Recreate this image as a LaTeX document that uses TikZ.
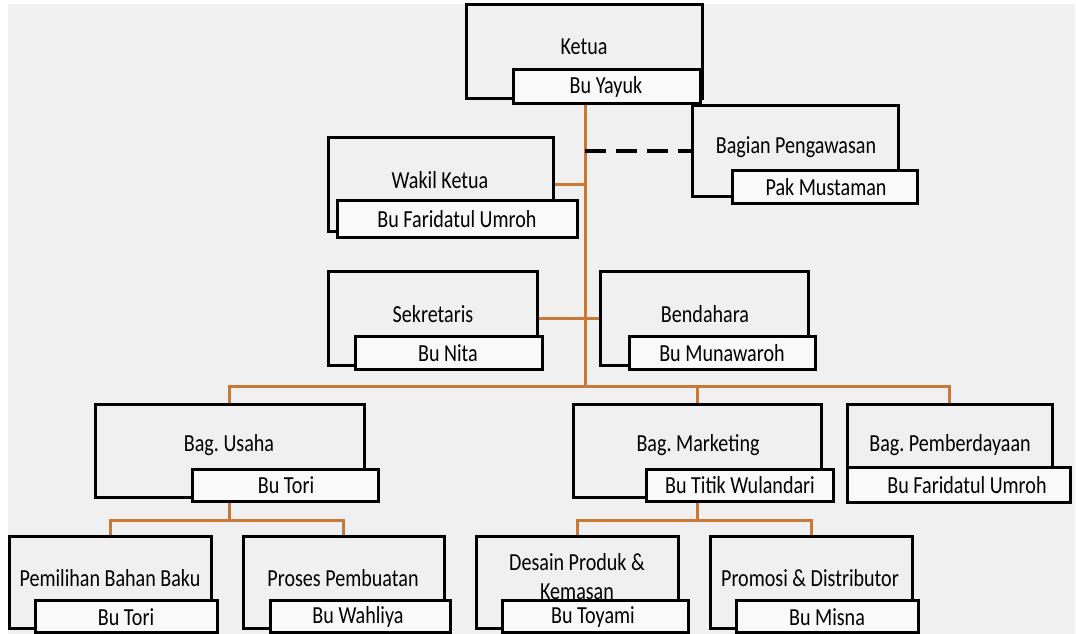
\documentclass[tikz,border=0pt]{standalone}
\usepackage{fontspec}
\setmainfont{Carlito}[FakeStretch=0.82]
\usetikzlibrary{fit}
\definecolor{bgcol}{HTML}{F0F0F0}
\definecolor{namefill}{HTML}{F9F9F9}
\definecolor{orgcol}{RGB}{200,121,56}
\definecolor{txtcol}{HTML}{000000}
\pgfdeclarelayer{bg}
\pgfdeclarelayer{lines}
\pgfsetlayers{bg,lines,main}
\tikzset{
  mainbox/.style={draw=black, line width=3pt, fill=bgcol, inner sep=0pt},
  namebox/.style={draw=black, line width=3pt, fill=namefill, inner sep=0pt},
  lbl/.style={font=\fontsize{24.5}{28}\selectfont\frenchspacing, inner sep=0pt, text=txtcol, align=center},
  conn/.style={draw=orgcol, line width=3pt},
  dashline/.style={draw=black, line width=4pt, dash pattern=on 21pt off 10pt}
}
\begin{document}
\frenchspacing
\begin{tikzpicture}[x=1pt,y=-1pt]
\useasboundingbox (0,0) rectangle (1076,634);
\begin{pgfonlayer}{bg}
\fill[bgcol] (8,4) rectangle (1075,634);
\end{pgfonlayer}
\coordinate (bus) at (585,386);
\coordinate (subbus) at (0,520);

% Ketua
\node[mainbox, fit={(466,5) (702,98)}] (ketua) {};
\node[lbl] (ketuaT) at (584,47) {Ketua};
\node[namebox, fit={(513,70) (700,103)}] (ketuaN) {};
\node[lbl] (ketuaNT) at (606,87) {Bu Yayuk};

% Bagian Pengawasan
\node[mainbox, fit={(692,105) (898,196)}] (peng) {};
\node[lbl] (pengT) at (796,147) {Bagian Pengawasan};
\node[namebox, fit={(732,170) (917,203)}] (pengN) {};
\node[lbl] (pengNT) at (826,187) {Pak Mustaman};

% Wakil Ketua
\node[mainbox, fit={(328,137) (553,231)}] (wakil) {};
\node[lbl] (wakilT) at (440,180) {Wakil Ketua};
\node[namebox, fit={(337,200) (577,237)}] (wakilN) {};
\node[lbl] (wakilNT) at (457,219) {Bu Faridatul Umroh};

% Sekretaris
\node[mainbox, fit={(328,271) (537,365)}] (sek) {};
\node[lbl] (sekT) at (433,314) {Sekretaris};
\node[namebox, fit={(355,336) (542,369)}] (sekN) {};
\node[lbl] (sekNT) at (448,353) {Bu Nita};

% Bendahara
\node[mainbox, fit={(600,271) (808,365)}] (bend) {};
\node[lbl] (bendT) at (705,314) {Bendahara};
\node[namebox, fit={(629,336) (815,369)}] (bendN) {};
\node[lbl] (bendNT) at (722,353) {Bu Munawaroh};

% Bag. Usaha
\node[mainbox, fit={(95,404) (364,497)}] (usaha) {};
\node[lbl] (usahaT) at (229,445) {Bag. Usaha};
\node[namebox, fit={(192,469) (378,501)}] (usahaN) {};
\node[lbl] (usahaNT) at (286,485) {Bu Tori};

% Bag. Marketing
\node[mainbox, fit={(573,404) (821,497)}] (market) {};
\node[lbl] (marketT) at (698,445) {Bag. Marketing};
\node[namebox, fit={(646,469) (833,501)}] (marketN) {};
\node[lbl] (marketNT) at (740,485) {Bu Titik Wulandari};

% Bag. Pemberdayaan
\node[mainbox, fit={(847,404) (1052,497)}] (pember) {};
\node[lbl] (pemberT) at (950,445) {Bag. Pemberdayaan};
\node[namebox, fit={(847,467) (1070,502)}] (pemberN) {};
\node[lbl] (pemberNT) at (967,485) {Bu Faridatul Umroh};

% Pemilihan Bahan Baku
\node[mainbox, fit={(9,536) (211,628)}] (pem) {};
\node[lbl] (pemT) at (110,578) {Pemilihan Bahan Baku};
\node[namebox, fit={(35,600) (217,632)}] (pemN) {};
\node[lbl] (pemNT) at (126,617) {Bu Tori};

% Proses Pembuatan
\node[mainbox, fit={(243,536) (444,628)}] (proses) {};
\node[lbl] (prosesT) at (343,578) {Proses Pembuatan};
\node[namebox, fit={(270,600) (450,632)}] (prosesN) {};
\node[lbl] (prosesNT) at (358,617) {Bu Wahliya};

% Desain Produk & Kemasan
\node[mainbox, fit={(476,536) (678,628)}] (desain) {};
\node[lbl] (desainT) at (577,562) {Desain Produk \&};
\node[lbl] (desainT2) at (577,592) {Kemasan};
\node[namebox, fit={(502,600) (688,632)}] (desainN) {};
\node[lbl] (desainNT) at (593,617) {Bu Toyami};

% Promosi & Distributor
\node[mainbox, fit={(710,536) (912,628)}] (promosi) {};
\node[lbl] (promosiT) at (810,578) {Promosi \& Distributor};
\node[namebox, fit={(736,600) (918,632)}] (promosiN) {};
\node[lbl] (promosiNT) at (827,617) {Bu Misna};

% connectors
\begin{pgfonlayer}{lines}
\draw[conn] (ketuaN.south -| bus) -- (bus);
\draw[conn] (wakil.east) -- (wakil.east -| bus);
\draw[conn] (sek.east) -- (bend.west);
\draw[dashline] (peng.west -| bus) -- (peng.west);
\draw[conn] (usaha.north) -- (usaha.north |- bus) -- (pember.north |- bus) -- (pember.north);
\draw[conn] (market.north) -- (market.north |- bus);
\draw[conn] (usaha.north |- usahaN.south) -- (usaha.north |- subbus);
\draw[conn] (pem.north) -- (pem.north |- subbus) -- (proses.north |- subbus) -- (proses.north);
\draw[conn] (market.north |- marketN.south) -- (market.north |- subbus);
\draw[conn] (desain.north) -- (desain.north |- subbus) -- (promosi.north |- subbus) -- (promosi.north);
\end{pgfonlayer}
\end{tikzpicture}
\end{document}
